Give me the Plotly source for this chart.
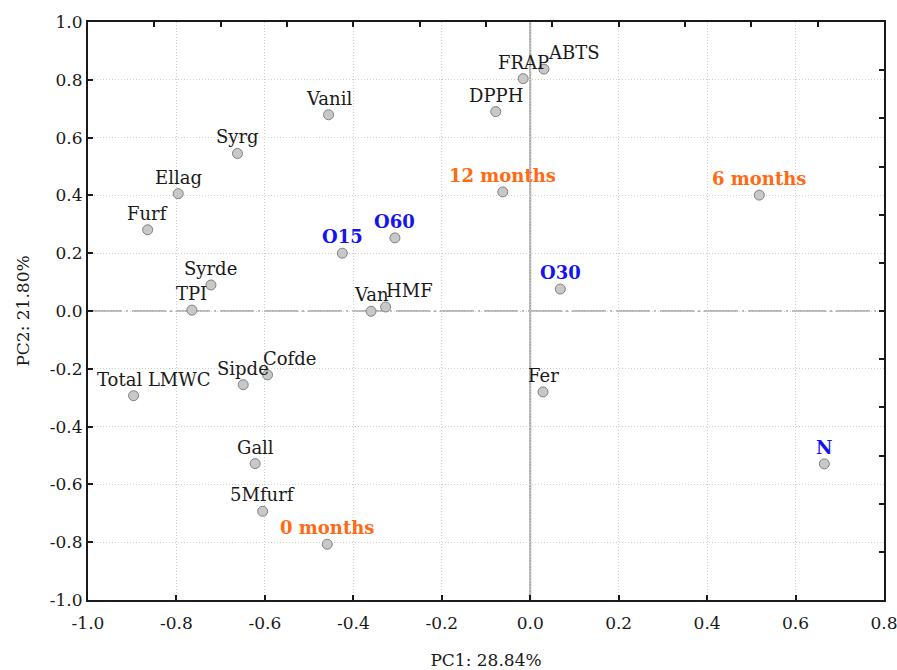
import plotly.graph_objects as go

# ---- data ----
labels = ["Syrg", "Ellag", "Furf", "Vanil", "DPPH", "FRAP", "ABTS", "12 months", "O60", "O15",
          "6 months", "Syrde", "TPI", "Total LMWC", "Sipde", "Cofde", "Gall", "Van", "HMF", "O30",
          "Fer", "N", "5Mfurf", "0 months"]
pc1 = [-0.662, -0.796, -0.865, -0.456, -0.078, -0.016, 0.031, -0.062, -0.306, -0.425,
       0.518, -0.722, -0.765, -0.897, -0.649, -0.594, -0.622, -0.360, -0.327, 0.068,
       0.029, 0.665, -0.605, -0.459]
pc2 = [0.545, 0.406, 0.281, 0.679, 0.690, 0.804, 0.837, 0.412, 0.253, 0.200,
       0.401, 0.090, 0.003, -0.293, -0.255, -0.221, -0.528, -0.001, 0.014, 0.076,
       -0.280, -0.529, -0.693, -0.807]
groups = ["var", "var", "var", "var", "var", "var", "var", "time", "oak", "oak",
          "time", "var", "var", "var", "var", "var", "var", "var", "var", "oak",
          "var", "oak", "var", "time"]

x_ticks = [-1.0, -0.8, -0.6, -0.4, -0.2, 0.0, 0.2, 0.4, 0.6, 0.8]
y_ticks = [-1.0, -0.8, -0.6, -0.4, -0.2, 0.0, 0.2, 0.4, 0.6, 0.8, 1.0]
top_ticks = [-0.85, -0.7, -0.55, -0.4, -0.25, -0.1, 0.05, 0.2, 0.35, 0.5, 0.65, 0.8]
right_ticks = [-1.0, -5/6, -4/6, -3/6, -2/6, -1/6, 0.0, 1/6, 2/6, 3/6, 4/6, 5/6, 1.0]

# ---- style ----
FONT = "DejaVu Serif"
group_color = {"var": "#1a1a1a", "time": "#FF6A13", "oak": "#1414F0"}
label_xshift = {"ABTS": 30, "Total LMWC": 20, "Cofde": 22, "HMF": 24}

fig = go.Figure()
fig.add_trace(go.Scatter(
    x=pc1, y=pc2, mode="markers",
    marker=dict(size=10, color="#c8c8c8", line=dict(color="#808080", width=1)),
    hoverinfo="text", text=labels, showlegend=False))
fig.add_trace(go.Scatter(x=[None], y=[None], xaxis="x2", yaxis="y2",
                         showlegend=False, hoverinfo="skip"))

for name, xv, yv, g in zip(labels, pc1, pc2, groups):
    bold = g != "var"
    fig.add_annotation(
        x=xv, y=yv, xref="x", yref="y",
        text=f"<b>{name}</b>" if bold else name,
        showarrow=False, xanchor="center", yanchor="bottom",
        xshift=label_xshift.get(name, 0), yshift=4,
        font=dict(family=FONT, size=18, color=group_color[g]))

# reference lines
fig.add_shape(type="line", xref="x", yref="y", x0=0, x1=0, y0=-1, y1=1,
              line=dict(color="#a8a8a8", width=2), layer="below")
fig.add_shape(type="line", xref="x", yref="y", x0=-1, x1=0.8, y0=0, y1=0,
              line=dict(color="#a0a0a0", width=1.5, dash="34px,4px,2px,4px"), layer="below")

tickfont = dict(family=FONT, size=17, color="#1a1a1a")
axis_common = dict(showline=True, linecolor="#1a1a1a", linewidth=2, mirror=False,
                   ticks="inside", ticklen=5, tickcolor="#1a1a1a", tickwidth=1.5,
                   zeroline=False, showgrid=True, gridcolor="#cfcfcf", gridwidth=1,
                   griddash="1px,2px", automargin=False, tickfont=tickfont,
                   ticklabeloverflow="allow")
sec_common = dict(showticklabels=False, ticks="inside", ticklen=5,
                  tickcolor="#1a1a1a", tickwidth=1.5, showline=True, linecolor="#1a1a1a",
                  linewidth=2, showgrid=False, zeroline=False, automargin=False)

fig.update_layout(
    width=897, height=670,
    margin=dict(l=88, r=13, t=22, b=70, autoexpand=False),
    paper_bgcolor="white", plot_bgcolor="white",
    xaxis=dict(range=[-1.0, 0.8], tickvals=x_ticks,
               ticktext=[f"{v:.1f}" for v in x_ticks], ticklabelstandoff=7,
               title=dict(text="PC1: 28.84%", font=tickfont, standoff=26),
               **axis_common),
    yaxis=dict(range=[-1.0, 1.0], tickvals=y_ticks,
               ticktext=[f"{v:.1f}" for v in y_ticks],
               title=dict(text="PC2: 21.80%", font=tickfont, standoff=16),
               **axis_common),
    xaxis2=dict(range=[-1.0, 0.8], overlaying="x", anchor="y", side="top",
                tickvals=top_ticks, **sec_common),
    yaxis2=dict(range=[-1.0, 1.0], overlaying="y", anchor="x", side="right",
                tickvals=right_ticks, **sec_common),
)

fig.write_html("out.html", config={"displayModeBar": False},
               post_script="document.body.style.margin='0';document.body.style.overflow='hidden';")
